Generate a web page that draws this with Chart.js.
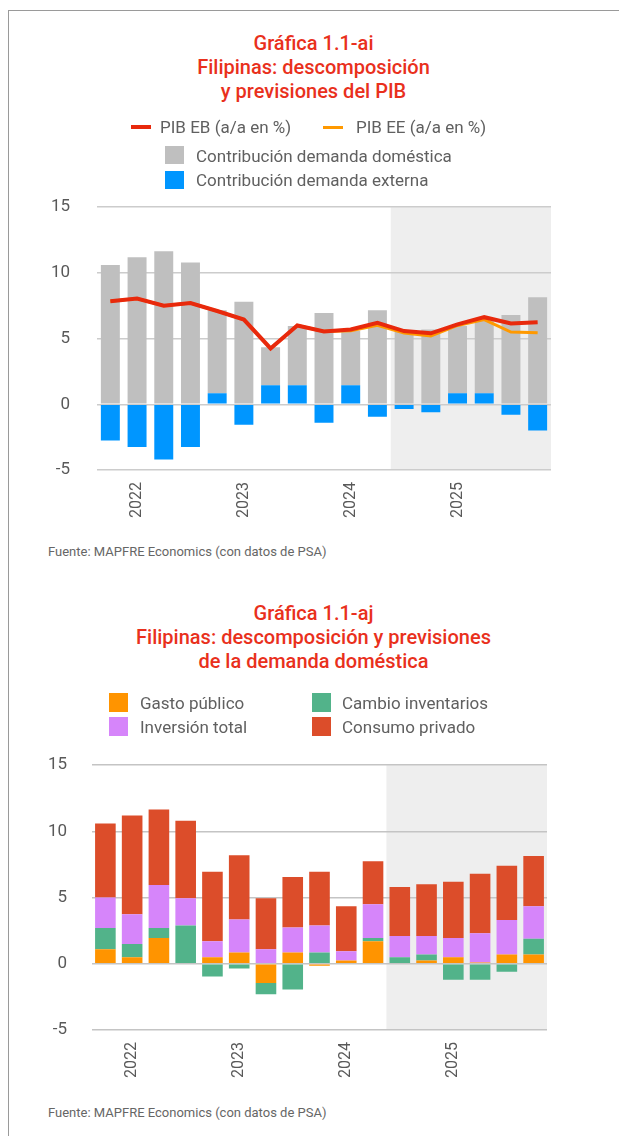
<!DOCTYPE html>
<html>
<head>
<meta charset="utf-8">
<script src="https://cdn.jsdelivr.net/npm/chart.js@4/dist/chart.umd.min.js"></script>
<style>
body { margin: 0; background: #fff; font-family: Roboto, "DejaVu Sans", sans-serif; }
#page { position: relative; width: 619px; height: 1136px; overflow: hidden; }
#frame { position: absolute; left: 8px; top: 10px; width: 700px; height: 1200px; border-left: 1px solid #9a9a9a; border-top: 1px solid #9a9a9a; }
.title { position: absolute; left: 8px; width: 611px; text-align: center; color: #e9301c; font-size: 20px; font-weight: 500; line-height: 24px; }
.leg { position: absolute; color: #606060; font-size: 17px; line-height: 22px; white-space: nowrap; }
.mark { position: absolute; }
.src { position: absolute; left: 48px; color: #666; font-size: 13px; line-height: 18px; }
.box { position: absolute; left: 0; width: 619px; height: 350px; }
</style>
</head>
<body>
<div id="page">
  <div id="frame"></div>

  <div class="box" style="top:170px"><canvas id="chart1"></canvas></div>
  <div class="title" style="top:31px">Gráfica 1.1-ai<br>Filipinas: descomposición<br>y previsiones del PIB</div>
  <div class="mark" style="left:131px;top:125px;width:20px;height:4px;background:#e8290c"></div>
  <div class="leg" style="left:160px;top:116px">PIB EB (a/a en %)</div>
  <div class="mark" style="left:323px;top:126px;width:20px;height:3px;background:#ff9900"></div>
  <div class="leg" style="left:356px;top:116px">PIB EE (a/a en %)</div>
  <div class="mark" style="left:165px;top:146px;width:19px;height:18px;background:#bfbfbf"></div>
  <div class="leg" style="left:196px;top:145px">Contribución demanda doméstica</div>
  <div class="mark" style="left:165px;top:171px;width:19px;height:18px;background:#0096ff"></div>
  <div class="leg" style="left:196px;top:169px">Contribución demanda externa</div>
  <div class="src" style="top:543px">Fuente: MAPFRE Economics (con datos de PSA)</div>

  <div class="box" style="top:730px"><canvas id="chart2"></canvas></div>
  <div class="title" style="top:601px">Gráfica 1.1-aj<br>Filipinas: descomposición y previsiones<br>de la demanda doméstica</div>
  <div class="mark" style="left:109px;top:693px;width:19px;height:19px;background:#ff9400"></div>
  <div class="leg" style="left:140px;top:692px">Gasto público</div>
  <div class="mark" style="left:312px;top:693px;width:19px;height:19px;background:#52b38a"></div>
  <div class="leg" style="left:342px;top:692px">Cambio inventarios</div>
  <div class="mark" style="left:109px;top:717px;width:19px;height:19px;background:#d685fa"></div>
  <div class="leg" style="left:140px;top:716px">Inversión total</div>
  <div class="mark" style="left:312px;top:717px;width:19px;height:19px;background:#dc4d2a"></div>
  <div class="leg" style="left:342px;top:716px">Consumo privado</div>
  <div class="src" style="top:1104px">Fuente: MAPFRE Economics (con datos de PSA)</div>
</div>

<script>
// quarters 2022 T1 .. 2026 T1, year label on the second quarter
const labels = ["", "2022", "", "", "", "2023", "", "", "", "2024", "", "", "", "2025", "", "", ""];
const forecastStart = 11;

// Gráfica 1.1-ai
const demandaDomestica = [10.6, 11.2, 11.65, 10.8, 6.3, 7.8, 2.9, 4.5, 6.95, 4.15, 7.15, 5.6, 5.7, 5.1, 5.7, 6.8, 8.15];
const demandaExterna = [-2.75, -3.25, -4.2, -3.25, 0.85, -1.55, 1.45, 1.45, -1.4, 1.45, -0.95, -0.35, -0.6, 0.85, 0.85, -0.8, -2.0];
const pibEB = [7.85, 8.05, 7.5, 7.7, 7.1, 6.45, 4.25, 6.0, 5.55, 5.7, 6.2, 5.57, 5.4, 6.08, 6.63, 6.15, 6.25];
const pibEE = [7.85, 8.05, 7.5, 7.7, 7.1, 6.45, 4.25, 6.0, 5.55, 5.6, 6.02, 5.42, 5.2, 6.0, 6.45, 5.5, 5.45];

// Gráfica 1.1-aj
const gastoPublico = [1.1, 0.5, 1.95, 0, 0.5, 0.85, -1.45, 0.85, -0.15, 0.25, 1.7, 0, 0.25, 0.5, 0.1, 0.7, 0.7];
const cambioInventarios = [1.6, 1.0, 0.75, 2.9, -0.95, -0.35, -0.85, -1.95, 0.85, 0, 0.25, 0.5, 0.45, -1.2, -1.2, -0.6, 1.2];
const inversionTotal = [2.3, 2.25, 3.25, 2.05, 1.2, 2.5, 1.1, 1.9, 2.05, 0.7, 2.55, 1.6, 1.4, 1.45, 2.2, 2.6, 2.45];
const consumoPrivado = [5.6, 7.45, 5.7, 5.85, 5.25, 4.85, 3.85, 3.8, 4.05, 3.4, 3.25, 3.7, 3.9, 4.25, 4.5, 4.1, 3.8];

const yTicks = [-5, 0, 5, 10, 15];

Chart.defaults.font.family = "Roboto, 'DejaVu Sans', sans-serif";
Chart.defaults.color = "#595959";

// grey band behind the forecast quarters
const forecastShade = {
    id: "forecastShade",
    beforeDraw(chart) {
        const x = chart.scales.x;
        const area = chart.chartArea;
        const left = (x.getPixelForValue(forecastStart - 1) + x.getPixelForValue(forecastStart)) / 2;
        const ctx = chart.ctx;
        ctx.save();
        ctx.fillStyle = "#eeeeee";
        ctx.fillRect(left, area.top, area.right - left, area.bottom - area.top);
        ctx.restore();
    },
};

function scales(yWidth, tickPad, gridOpts) {
    return {
        x: {
            stacked: true,
            grid: { display: false },
            border: { display: false },
            ticks: { autoSkip: false, minRotation: 90, maxRotation: 90, padding: 4, font: { size: 16 }, color: "#595959" },
            afterFit: (s) => { s.height = 50; },
        },
        y: {
            stacked: true,
            min: -5,
            max: 15,
            afterBuildTicks: (s) => { s.ticks = yTicks.map((v) => ({ value: v })); },
            grid: Object.assign({ drawTicks: false }, gridOpts),
            border: { display: false },
            ticks: { padding: tickPad, font: { size: 17 }, color: "#595959" },
            afterFit: (s) => { s.width = yWidth; },
        },
    };
}

new Chart(document.getElementById("chart1"), {
    type: "bar",
    data: {
        labels: labels,
        datasets: [
            { type: "line", label: "PIB EB (a/a en %)", data: pibEB, stack: "eb", order: 0,
              borderColor: "#e8290c", borderWidth: 4, pointRadius: 0, tension: 0 },
            { type: "line", label: "PIB EE (a/a en %)", data: pibEE, stack: "ee", order: 0,
              borderColor: "#ff9900", borderWidth: 3, pointRadius: 0, tension: 0 },
            { label: "Contribución demanda externa", data: demandaExterna, stack: "c", order: 1,
              backgroundColor: "#0096ff", categoryPercentage: 1, barPercentage: 0.71 },
            { label: "Contribución demanda doméstica", data: demandaDomestica, stack: "c", order: 2,
              backgroundColor: "#bfbfbf", categoryPercentage: 1, barPercentage: 0.71 },
        ],
    },
    options: {
        responsive: true,
        maintainAspectRatio: false,
        animation: false,
        layout: { padding: { left: 0, right: 68, top: 10, bottom: 0 } },
        plugins: { legend: { display: false }, tooltip: { enabled: false } },
        scales: scales(97, 27, { color: "#cccccc", lineWidth: 1.5 }),
    },
    plugins: [forecastShade],
});

new Chart(document.getElementById("chart2"), {
    type: "bar",
    data: {
        labels: labels,
        datasets: [
            { label: "Gasto público", data: gastoPublico, backgroundColor: "#ff9400" },
            { label: "Cambio inventarios", data: cambioInventarios, backgroundColor: "#52b38a" },
            { label: "Inversión total", data: inversionTotal, backgroundColor: "#d685fa" },
            { label: "Consumo privado", data: consumoPrivado, backgroundColor: "#dc4d2a" },
        ].map((d) => Object.assign(d, { categoryPercentage: 1, barPercentage: 0.77 })),
    },
    options: {
        responsive: true,
        maintainAspectRatio: false,
        animation: false,
        layout: { padding: { left: 0, right: 72, top: 10, bottom: 0 } },
        plugins: { legend: { display: false }, tooltip: { enabled: false } },
        scales: scales(92, 25, { color: "#c4c4c4", lineWidth: 1.5, borderDash: [3, 3] }),
    },
    plugins: [forecastShade],
});
</script>
</body>
</html>
